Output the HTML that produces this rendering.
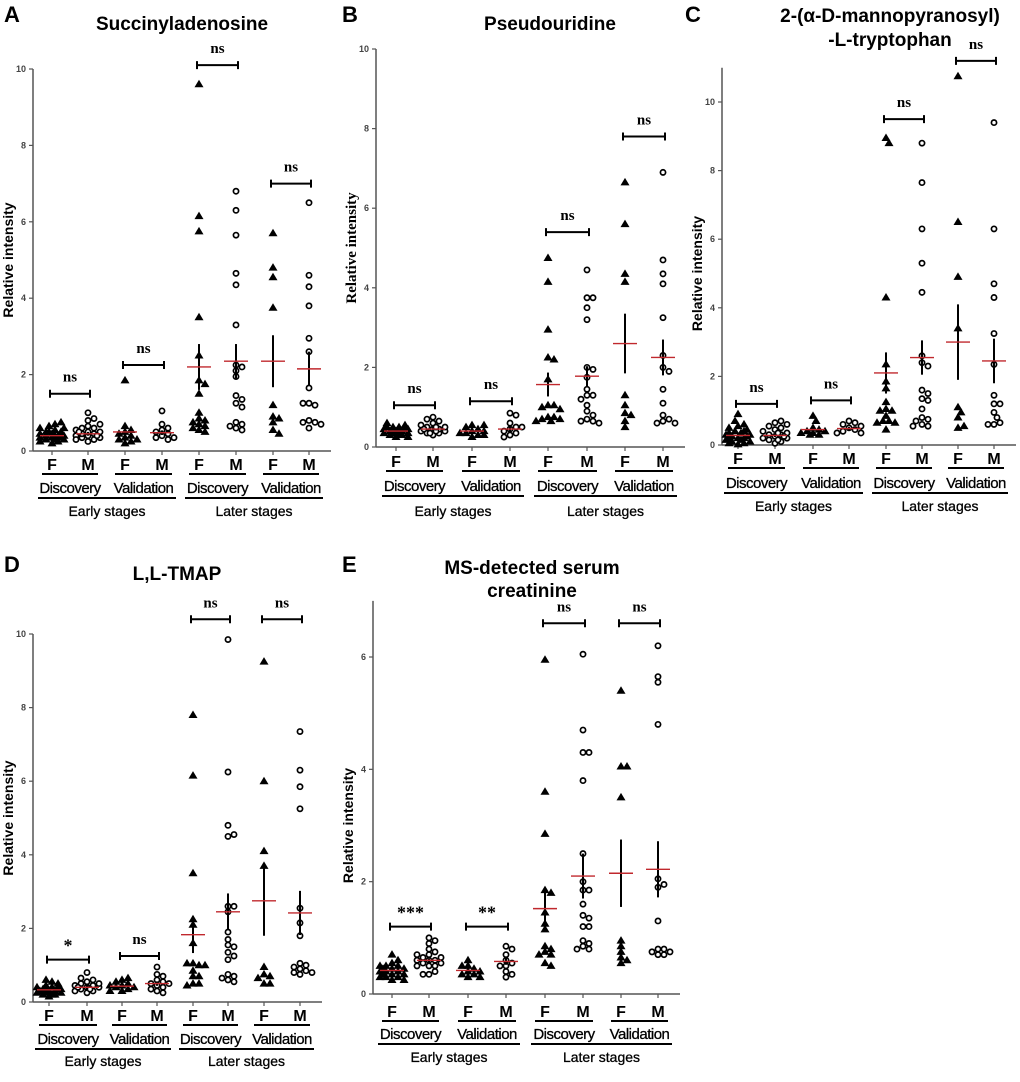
<!DOCTYPE html>
<html><head><meta charset="utf-8"><style>
body{margin:0;background:#fff;}
svg{display:block;font-family:"Liberation Sans",Arial,sans-serif;}
</style></head><body>
<svg id="fig" width="1020" height="1082" viewBox="0 0 1020 1082"></svg>
<script>
// ---------- DATA ----------
const groupLabels = ["F","M","F","M","F","M","F","M"];
const cohortLabels = ["Discovery","Validation","Discovery","Validation"];
const stageLabels = ["Early stages","Later stages"];

const aVals = [
 [0.2,0.25,0.3,0.3,0.35,0.35,0.4,0.4,0.4,0.45,0.45,0.5,0.5,0.55,0.6,0.65,0.7,0.75,0.3,0.25,0.35,0.5,0.6,0.4],
 [0.25,0.3,0.35,0.35,0.4,0.4,0.45,0.45,0.5,0.5,0.55,0.6,0.6,0.65,0.7,0.8,0.85,1.0,0.3,0.4,0.5],
 [1.85,0.65,0.55,0.5,0.45,0.4,0.35,0.3,0.25,0.2,0.3],
 [1.05,0.7,0.6,0.55,0.5,0.45,0.4,0.35,0.35,0.3],
 [9.6,6.15,5.75,3.5,2.5,1.85,1.75,1.5,1.0,0.85,0.8,0.75,0.7,0.65,0.6,0.55,0.5],
 [6.8,6.3,5.65,4.65,4.35,3.3,2.25,2.2,2.1,1.95,1.45,1.35,1.25,1.15,0.75,0.7,0.65,0.6,0.55],
 [5.7,4.8,4.55,3.75,1.2,0.9,0.85,0.75,0.55,0.45],
 [6.5,4.6,4.3,3.8,2.95,2.6,1.65,1.25,1.2,1.25,0.8,0.75,0.75,0.7,0.6]];
const aMeans = [0.4,0.45,0.5,0.48,2.2,2.35,2.35,2.15];
const aSem = [0.05,0.05,0.1,0.06,0.6,0.45,0.68,0.45];
const aBrackets = [1.5,2.25,10.1,7.0];
const aSig = ["ns","ns","ns","ns"];

const bVals = [
 [0.25,0.3,0.3,0.35,0.35,0.4,0.4,0.4,0.45,0.45,0.5,0.5,0.55,0.6,0.3,0.35,0.45,0.5,0.4,0.25],
 [0.3,0.35,0.35,0.4,0.4,0.45,0.45,0.5,0.5,0.55,0.6,0.65,0.7,0.75,0.4,0.5,0.35,0.45],
 [0.25,0.3,0.35,0.4,0.4,0.45,0.5,0.55,0.55,0.35,0.3],
 [0.85,0.8,0.6,0.5,0.45,0.4,0.35,0.3,0.25,0.5],
 [4.75,4.15,2.95,2.25,2.2,1.7,1.05,1.05,1.0,0.95,0.75,0.75,0.7,0.7,0.65,0.65],
 [4.45,3.75,3.75,3.5,3.2,2.0,1.95,1.75,1.45,1.3,1.3,1.2,1.05,0.9,0.8,0.7,0.65,0.65,0.6],
 [6.65,5.6,4.35,4.15,1.3,1.05,0.85,0.8,0.65,0.5],
 [6.9,4.7,4.35,4.1,3.25,2.3,2.0,1.9,1.45,1.1,0.8,0.7,0.65,0.6,0.6]];
const bMeans = [0.4,0.45,0.4,0.45,1.57,1.78,2.6,2.25];
const bSem = [0.04,0.04,0.05,0.06,0.3,0.25,0.75,0.45];
const bBrackets = [1.05,1.15,5.4,7.8];
const bSig = ["ns","ns","ns","ns"];

const cVals = [
 [0.02,0.05,0.1,0.1,0.15,0.2,0.2,0.25,0.3,0.3,0.35,0.4,0.45,0.5,0.55,0.6,0.7,0.9,0.15,0.25,0.35,0.05,0.4,0.2],
 [0.05,0.1,0.15,0.2,0.2,0.25,0.3,0.3,0.35,0.4,0.45,0.5,0.55,0.6,0.65,0.7,0.15,0.25,0.35],
 [0.85,0.7,0.5,0.45,0.4,0.4,0.35,0.35,0.3,0.3],
 [0.7,0.65,0.6,0.55,0.5,0.45,0.4,0.35,0.35],
 [8.95,8.8,4.3,2.35,1.85,1.65,1.25,1.05,1.0,1.0,0.85,0.7,0.7,0.65,0.65,0.45],
 [8.8,7.65,6.3,5.3,4.45,2.6,2.4,2.3,1.6,1.5,1.35,1.3,1.05,0.8,0.75,0.7,0.6,0.55,0.55],
 [10.75,6.5,4.9,3.4,1.1,0.95,0.8,0.5,0.55],
 [9.4,6.3,4.7,4.3,3.25,2.35,1.45,1.2,1.2,0.95,0.8,0.6,0.65,0.6]];
const cMeans = [0.28,0.28,0.45,0.48,2.1,2.55,3.0,2.45];
const cSem = [0.05,0.05,0.06,0.05,0.6,0.5,1.1,0.65];
const cBrackets = [1.2,1.3,9.5,11.2];
const cSig = ["ns","ns","ns","ns"];

const dVals = [
 [0.15,0.2,0.2,0.25,0.25,0.3,0.3,0.35,0.35,0.4,0.4,0.45,0.5,0.55,0.6,0.2,0.3,0.4,0.25,0.35],
 [0.25,0.3,0.35,0.4,0.4,0.45,0.45,0.5,0.55,0.6,0.65,0.8,0.3,0.4,0.5,0.35],
 [0.3,0.35,0.4,0.4,0.45,0.5,0.55,0.6,0.65,0.3,0.45],
 [0.95,0.75,0.7,0.6,0.55,0.5,0.45,0.4,0.35,0.3,0.25,0.5],
 [7.8,6.15,3.5,2.25,2.1,1.6,1.05,1.0,1.05,1.0,0.85,0.7,0.7,0.5,0.5,0.45],
 [9.85,6.25,4.8,4.5,4.55,2.6,2.6,2.45,1.9,1.7,1.55,1.5,1.35,1.25,1.15,0.75,0.7,0.65,0.6,0.55],
 [9.25,6.0,4.1,3.7,0.95,0.75,0.7,0.65,0.5,0.5],
 [7.35,6.3,5.85,5.25,2.55,2.15,1.8,1.05,1.0,0.95,0.9,0.85,0.8,0.8,0.75]];
const dMeans = [0.33,0.4,0.43,0.5,1.83,2.45,2.75,2.42];
const dSem = [0.04,0.05,0.05,0.06,0.5,0.5,0.95,0.6];
const dBrackets = [1.15,1.25,10.4,10.4];
const dSig = ["*","ns","ns","ns"];

const eVals = [
 [0.25,0.3,0.3,0.35,0.35,0.4,0.4,0.45,0.45,0.5,0.5,0.55,0.6,0.7,0.3,0.4,0.35,0.45,0.25,0.5],
 [0.35,0.4,0.5,0.5,0.55,0.55,0.6,0.6,0.65,0.65,0.7,0.75,0.8,0.9,0.95,1.0,0.35,0.6,0.7,0.5],
 [0.3,0.35,0.35,0.4,0.4,0.45,0.5,0.5,0.6,0.3],
 [0.85,0.8,0.7,0.6,0.55,0.5,0.5,0.4,0.35,0.3],
 [5.95,3.6,2.85,1.85,1.8,1.45,1.25,1.15,0.85,0.8,0.75,0.7,0.7,0.55,0.5],
 [6.05,4.7,4.3,4.3,3.8,2.5,2.0,1.85,1.85,1.6,1.4,1.35,1.2,1.2,0.95,0.9,0.85,0.8,0.8],
 [5.4,4.05,4.05,3.5,0.95,0.85,0.75,0.65,0.6,0.55],
 [6.2,5.65,5.55,4.8,2.05,1.9,1.95,1.3,0.8,0.8,0.75,0.75,0.7,0.7]];
const eMeans = [0.42,0.6,0.42,0.58,1.52,2.1,2.15,2.22];
const eSem = [0.03,0.03,0.04,0.06,0.35,0.4,0.6,0.5];
const eBrackets = [1.2,1.2,6.6,6.6];
const eSig = ["***","**","ns","ns"];

const aTicks=[0,2,4,6,8,10], bTicks=[0,2,4,6,8,10], cTicks=[0,2,4,6,8,10], dTicks=[0,2,4,6,8,10], eTicks=[0,2,4,6];

// ---------- LAYOUT ----------
const NS="http://www.w3.org/2000/svg";
const svg=document.getElementById('fig');
function mk(tag,attrs,parent,text){const e=document.createElementNS(NS,tag);for(const k in attrs)e.setAttribute(k,attrs[k]);if(text!==undefined)e.textContent=text;(parent||svg).appendChild(e);return e;}

const panels=[
 {id:"a",letter:"A",lx:4,ly:22,title:["Succinyladenosine"],tx:182,ty:[30],ax:33,y0:451,yTop:69,yMaxTick:10,axTopVal:10,xs:[52,88,125,162,199,236,273,309],labY:470,cohY:493,stY:516,vals:aVals,means:aMeans,sem:aSem,br:aBrackets,sig:aSig,ticks:aTicks,serif:false},
 {id:"b",letter:"B",lx:342,ly:22,title:["Pseudouridine"],tx:550,ty:[30],ax:376,y0:447,yTop:49,yMaxTick:10,axTopVal:10,xs:[396,433,472,510,548,587,625,663],labY:467,cohY:491,stY:516,vals:bVals,means:bMeans,sem:bSem,br:bBrackets,sig:bSig,ticks:bTicks,serif:true},
 {id:"c",letter:"C",lx:685,ly:22,title:["2-(\u03B1-D-mannopyranosyl)","-L-tryptophan"],tx:890,ty:[22,46],ax:722,y0:445,yTop:102,yMaxTick:10,axTopVal:11,xs:[738,775,813,849,886,922,958,994],labY:464,cohY:488,stY:511,vals:cVals,means:cMeans,sem:cSem,br:cBrackets,sig:cSig,ticks:cTicks,serif:false},
 {id:"d",letter:"D",lx:4,ly:572,title:["L,L-TMAP"],tx:177,ty:[580],ax:33,y0:1002,yTop:634,yMaxTick:10,axTopVal:10,xs:[49,87,122,157,193,228,264,300],labY:1021,cohY:1044,stY:1066,vals:dVals,means:dMeans,sem:dSem,br:dBrackets,sig:dSig,ticks:dTicks,serif:false},
 {id:"e",letter:"E",lx:342,ly:572,title:["MS-detected serum","creatinine"],tx:532,ty:[574,597],ax:373,y0:994,yTop:657,yMaxTick:6,axTopVal:7,xs:[392,429,468,506,545,583,621,658],labY:1017,cohY:1039,stY:1062,vals:eVals,means:eMeans,sem:eSem,br:eBrackets,sig:eSig,ticks:eTicks,serif:false}
];

panels.forEach(p=>{
 const g=mk('g',{});
 
 
 const Y=v=>p.y0-(v/p.yMaxTick)*(p.y0-p.yTop);
 const L=mk('text',{x:p.lx,y:p.ly,'font-size':22,'font-weight':'bold'},g,p.letter);
 
 
 p.title.forEach((t,i)=>{
  const T=mk('text',{x:p.tx,y:p.ty[i],'font-size':19,'font-weight':'bold','text-anchor':'middle'},g,t);
  
  
 });
 const ya=mk('line',{x1:p.ax,x2:p.ax,y1:Y(p.axTopVal),y2:p.y0,stroke:'#555','stroke-width':1.5},g);
 
 
 const xEnd=p.xs[7]+22;
 const xa=mk('line',{x1:p.ax,x2:xEnd,y1:p.y0,y2:p.y0,stroke:'#555','stroke-width':1.5},g);
 
 
 p.ticks.forEach(t=>{
  mk('line',{x1:p.ax-4,x2:p.ax,y1:Y(t),y2:Y(t),stroke:'#555','stroke-width':1.2},g);
  const tl=mk('text',{x:p.ax-7,y:Y(t)+3,'font-size':9,'font-weight':'bold','fill':'#444','text-anchor':'end'},g,t);
  
  
 });
 p.xs.forEach(x=>mk('line',{x1:x,x2:x,y1:p.y0,y2:p.y0+4,stroke:'#555','stroke-width':1.2},g));
 const ylab=mk('text',{transform:`translate(${p.ax-20},${(p.y0+p.yTop)/2}) rotate(-90)`,'font-size':p.serif?15:14,'font-weight':'bold','text-anchor':'middle','font-family':p.serif?'"Liberation Serif",serif':'"Liberation Sans",sans-serif'},g,'Relative intensity');
 
 
 p.xs.forEach((x,i)=>{
  const t=mk('text',{x:x,y:p.labY,'font-size':16,'font-weight':'bold','text-anchor':'middle'},g,groupLabels[i]);
  
  
 });
 for(let k=0;k<4;k++){
  const x1=p.xs[2*k]-10,x2=p.xs[2*k+1]+10;
  mk('line',{x1:x1,x2:x2,y1:p.labY+4,y2:p.labY+4,stroke:'#000','stroke-width':2},g);
  const ct=mk('text',{x:(p.xs[2*k]+p.xs[2*k+1])/2,y:p.cohY,'font-size':15,'text-anchor':'middle','letter-spacing':'-0.5','stroke':'#000','stroke-width':0.3},g,cohortLabels[k]);
  
  
 }
 for(let s=0;s<2;s++){
  const x1=p.xs[4*s]-14,x2=p.xs[4*s+3]+14;
  mk('line',{x1:x1,x2:x2,y1:p.cohY+5,y2:p.cohY+5,stroke:'#000','stroke-width':2},g);
  const st=mk('text',{x:(x1+x2)/2,y:p.stY,'font-size':14,'text-anchor':'middle','stroke':'#000','stroke-width':0.3},g,stageLabels[s]);
  
  
 }
 // points (compact swarm)
 p.vals.forEach((arr,gi)=>{
  const placed=[];
  const cx=p.xs[gi];
  arr.forEach(v=>{
   const y=Y(v);
   const cand=[0];for(let k=1;k<=4;k++){cand.push(k*3,-k*3);}
   let best=0,bestD=-1;
   for(const c of cand){
    const d=placed.length?Math.min(...placed.map(q=>Math.hypot(q[0]-c,q[1]-y))):99;
    if(d>=5.5){best=c;bestD=d;break;}
    if(d>bestD){bestD=d;best=c;}
   }
   const off=best;
   placed.push([off,y]);
   let m;
   if(gi%2===0){
    m=mk('path',{d:`M${cx+off},${y-4.5} L${cx+off+4.5},${y+3} L${cx+off-4.5},${y+3} Z`,fill:'#000'},g);
    
   } else {
    m=mk('circle',{cx:cx+off,cy:y,r:2.6,fill:'#fff',stroke:'#000','stroke-width':1.7},g);
    
   }
   
  });
  const se=mk('line',{x1:cx,x2:cx,y1:Y(p.means[gi]+p.sem[gi]),y2:Y(p.means[gi]-p.sem[gi]),stroke:'#000','stroke-width':2},g);
  
  
  const mn=mk('line',{x1:cx-12,x2:cx+12,y1:Y(p.means[gi]),y2:Y(p.means[gi]),stroke:'#c0282d','stroke-width':1.4},g);
  
  
 });
 for(let k=0;k<4;k++){
  const x1=p.xs[2*k]-2,x2=p.xs[2*k+1]+2,y=Y(p.br[k]);
  const b=mk('path',{d:`M${x1},${y-4}V${y+4}M${x1},${y}H${x2}M${x2},${y-4}V${y+4}`,stroke:'#000','stroke-width':2,fill:'none'},g);
  
  
  const star=p.sig[k]!=="ns";
  const sl=mk('text',{x:(x1+x2)/2,y:star?y-8:y-12,'font-size':star?18:15,'font-weight':'bold','text-anchor':'middle','font-family':'"Liberation Serif",serif'},g,p.sig[k]);
  
  
 }
});
</script>
</body></html>
